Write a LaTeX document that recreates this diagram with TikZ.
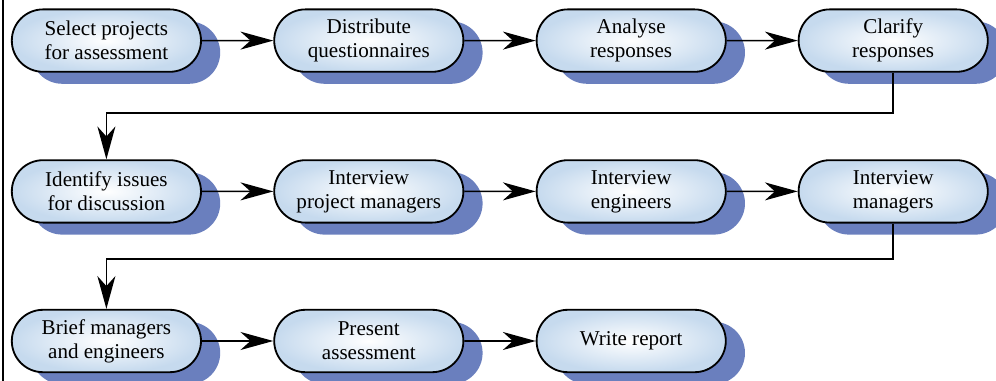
\documentclass[tikz,border=0pt]{standalone}
\usepackage{fontspec}
\setmainfont{Liberation Serif}
\usetikzlibrary{shapes.misc,shadows,arrows.meta}
\definecolor{boxblue}{RGB}{198,218,238}
\definecolor{shadeblue}{RGB}{106,127,190}

\begin{document}
\begin{tikzpicture}[
    stepbox/.style={rounded rectangle, draw=black, line width=1.3pt,
        minimum width=4.8cm, minimum height=1.56cm, inner sep=1pt,
        align=center, inner color=white, outer color=boxblue,
        font=\fontsize{15}{17}\selectfont,
        drop shadow={shadow xshift=0.48cm, shadow yshift=-0.3cm,
            fill=shadeblue, opacity=1}},
    flow/.style={line width=1.1pt, -{Stealth[length=0.82cm, width=0.45cm, inset=0.25cm]}}]
                \useasboundingbox (0,0) rectangle (24.9,9.525);
                \draw[line width=1.1pt] (0.075,0)--(0.075,9.525);
                % first row
                \node[stepbox] (select) at (2.66,8.51) {Select projects\\for assessment};
                \node[stepbox] (distribute) at (9.22,8.51) {Distribute\\questionnaires};
                \node[stepbox] (analyse) at (15.78,8.51) {Analyse\\responses};
                \node[stepbox] (clarify) at (22.33,8.51) {Clarify\\responses};
                % second row
                \node[stepbox] (identify) at (2.66,4.74) {Identify issues\\for discussion};
                \node[stepbox] (intpm) at (9.22,4.74) {Interview\\project managers};
                \node[stepbox] (inteng) at (15.78,4.74) {Interview\\engineers};
                \node[stepbox] (intman) at (22.33,4.74) {Interview\\managers};
                % third row
                \node[stepbox] (brief) at (2.66,1.0) {Brief managers\\and engineers};
                \node[stepbox] (present) at (9.22,1.0) {Present\\assessment};
                \node[stepbox] (report) at (15.78,1.0) {Write report};
                \coordinate (turnA) at (22.33,6.7);
                \coordinate (turnB) at (22.33,3.05);
                \draw[flow] (select)--(distribute);
                \draw[flow] (distribute)--(analyse);
                \draw[flow] (analyse)--(clarify);
                \draw[flow] (clarify.south)--(turnA)-|(identify.north);
                \draw[flow] (identify)--(intpm);
                \draw[flow] (intpm)--(inteng);
                \draw[flow] (inteng)--(intman);
                \draw[flow] (intman.south)--(turnB)-|(brief.north);
                \draw[flow] (brief)--(present);
                \draw[flow] (present)--(report);
            \end{tikzpicture}
\end{document}
